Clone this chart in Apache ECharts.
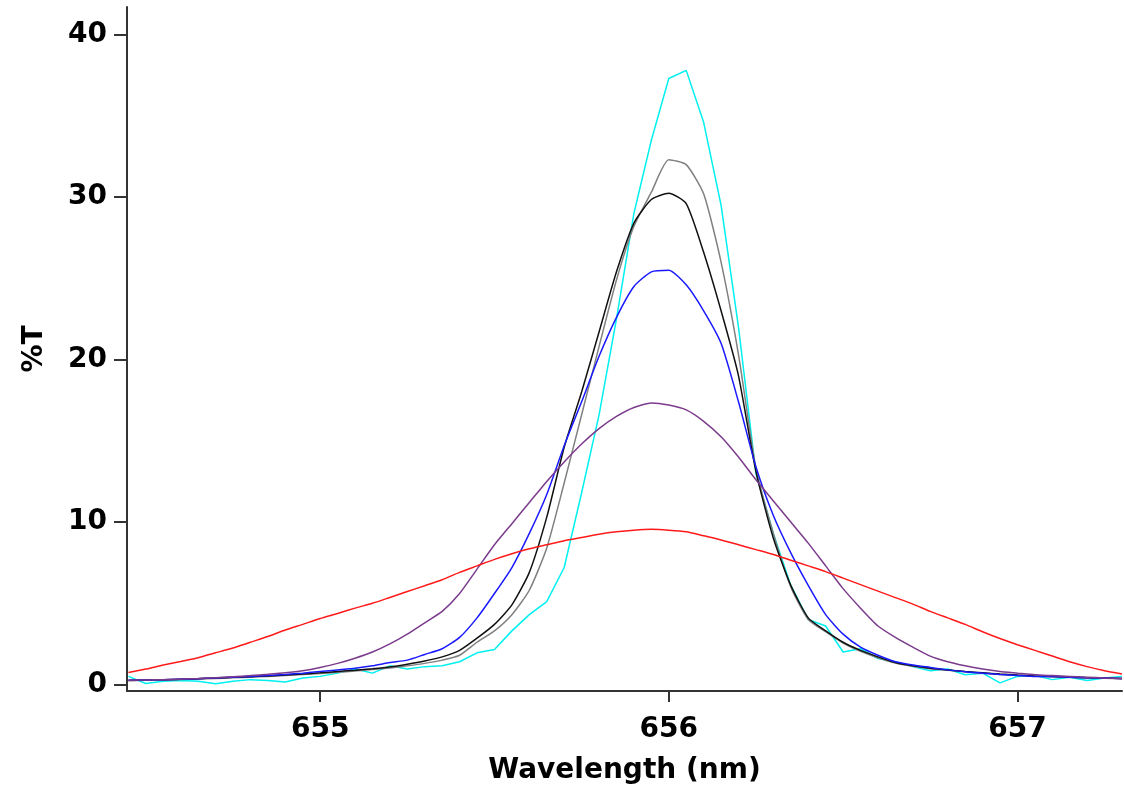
<!DOCTYPE html>
<html>
<head>
<meta charset="utf-8">
<title>%T vs Wavelength</title>
<script src="https://cdn.jsdelivr.net/npm/echarts@6/dist/echarts.min.js"></script>
<style>
  html, body { margin: 0; padding: 0; background: #fff; }
  #chart { width: 1124px; height: 790px; }
</style>
</head>
<body>
<div id="chart"></div>
<script>
// wavelength grid, nm
var wavelength = [
  654.45, 654.50, 654.55, 654.60, 654.65, 654.70, 654.75, 654.80, 654.85, 654.90,
  654.95, 655.00, 655.05, 655.10, 655.15, 655.20, 655.25, 655.30, 655.35, 655.40,
  655.45, 655.50, 655.55, 655.60, 655.65, 655.70, 655.75, 655.80, 655.85, 655.90,
  655.95, 656.00, 656.05, 656.10, 656.15, 656.20, 656.25, 656.30, 656.35, 656.40,
  656.45, 656.50, 656.55, 656.60, 656.65, 656.70, 656.75, 656.80, 656.85, 656.90,
  656.95, 657.00, 657.05, 657.10, 657.15, 657.20, 657.25, 657.30
];

// %T per curve
var cyanT = [
  0.5, 0.06, 0.2, 0.25, 0.2, 0.05, 0.2, 0.3, 0.25, 0.15,
  0.4, 0.5, 0.7, 0.95, 0.7, 1.15, 0.95, 1.1, 1.15, 1.4,
  1.95, 2.15, 3.3, 4.3, 5.1, 7.2, 11.8, 16.6, 22.5, 29.0,
  33.5, 37.3, 37.8, 34.6, 29.5, 22.0, 13.0, 9.3, 6.1, 4.0,
  3.6, 2.0, 2.2, 1.6, 1.4, 1.1, 0.85, 0.95, 0.6, 0.7,
  0.1, 0.5, 0.55, 0.3, 0.45, 0.25, 0.4, 0.5
];
var greyT = [
  0.24, 0.26, 0.28, 0.31, 0.34, 0.37, 0.41, 0.45, 0.5, 0.55,
  0.61, 0.68, 0.75, 0.83, 0.92, 1.02, 1.15, 1.3, 1.5, 1.8,
  2.6, 3.3, 4.3, 5.8, 8.4, 12.4, 16.6, 20.8, 24.9, 28.2,
  30.3, 32.3, 32.0, 30.2, 26.0, 20.3, 13.3, 9.3, 6.0, 4.0,
  3.25, 2.55, 2.05, 1.65, 1.32, 1.12, 0.97, 0.87, 0.78, 0.7,
  0.62, 0.56, 0.51, 0.47, 0.44, 0.41, 0.39, 0.36
];
var blackT = [
  0.25, 0.28, 0.3, 0.33, 0.36, 0.4, 0.44, 0.48, 0.53, 0.58,
  0.65, 0.72, 0.8, 0.88, 0.97, 1.08, 1.25, 1.45, 1.7, 2.1,
  2.85, 3.7, 4.9, 6.9, 10.3, 14.6, 18.0, 21.7, 25.4, 28.4,
  29.85, 30.24, 29.6, 26.6, 23.0, 19.0, 13.1, 9.0, 6.1, 4.1,
  3.3, 2.6, 2.1, 1.7, 1.35, 1.15, 1.0, 0.9, 0.8, 0.72,
  0.64, 0.58, 0.53, 0.49, 0.45, 0.42, 0.4, 0.37
];
var blueT = [
  0.26, 0.28, 0.3, 0.33, 0.36, 0.4, 0.45, 0.49, 0.55, 0.62,
  0.7, 0.8, 0.9, 1.0, 1.15, 1.35, 1.5, 1.85, 2.2, 2.9,
  4.1, 5.6, 7.2, 9.3, 11.7, 14.7, 17.4, 20.2, 22.6, 24.5,
  25.4, 25.5, 24.6, 23.0, 21.0, 17.4, 13.4, 10.4, 8.1, 6.1,
  4.3, 3.1, 2.3, 1.8, 1.4, 1.2, 1.05, 0.9, 0.78, 0.7,
  0.62, 0.56, 0.5, 0.49, 0.45, 0.42, 0.4, 0.37
];
var purpleT = [
  0.26, 0.28, 0.3, 0.33, 0.37, 0.42, 0.48, 0.55, 0.63, 0.72,
  0.85, 1.05, 1.3, 1.62, 2.0, 2.5, 3.1, 3.8, 4.5, 5.6,
  7.1, 8.6, 9.9, 11.2, 12.5, 13.7, 14.8, 15.75, 16.5, 17.05,
  17.33, 17.2, 16.9, 16.2, 15.25, 14.0, 12.6, 11.3, 10.0, 8.7,
  7.3, 5.9, 4.7, 3.6, 2.9, 2.3, 1.75, 1.4, 1.15, 0.95,
  0.8, 0.7, 0.6, 0.55, 0.5, 0.45, 0.4, 0.37
];
var redT = [
  0.74, 0.95, 1.2, 1.42, 1.65, 1.95, 2.25, 2.6, 2.95, 3.35,
  3.7, 4.06, 4.37, 4.7, 5.0, 5.36, 5.72, 6.08, 6.45, 6.9,
  7.3, 7.7, 8.05, 8.35, 8.6, 8.85, 9.05, 9.25, 9.4, 9.5,
  9.55, 9.5, 9.4, 9.15, 8.9, 8.6, 8.3, 8.0, 7.65, 7.3,
  6.95, 6.55, 6.15, 5.75, 5.35, 4.95, 4.5, 4.1, 3.7, 3.25,
  2.83, 2.45, 2.1, 1.75, 1.4, 1.1, 0.85, 0.65
];

var xTicks = [655, 656, 657];
var yTicks = [0, 10, 20, 30, 40];

var font = "'DejaVu Sans', sans-serif";
var axisColor = '#333';

function pairs(vals) {
  return wavelength.map(function (w, i) { return [w, vals[i]]; });
}

function line(vals, color, smooth) {
  return {
    type: 'line',
    data: pairs(vals),
    showSymbol: false,
    smooth: smooth,
    lineStyle: { color: color, width: 1.5 },
    emphasis: { disabled: true }
  };
}

var myChart = echarts.init(document.getElementById('chart'));
var option = {
  animation: false,
  backgroundColor: '#fff',
  grid: { left: 127, right: 2, top: 7, bottom: 97 },
  xAxis: {
    type: 'value',
    min: 654.446,
    max: 657.3,
    name: 'Wavelength (nm)',
    nameLocation: 'middle',
    nameGap: 66,
    nameTextStyle: { fontSize: 28, fontWeight: 'bold', color: '#000', fontFamily: font },
    axisLine: { onZero: false, lineStyle: { color: axisColor, width: 2 } },
    axisTick: { customValues: xTicks, length: 11, lineStyle: { color: axisColor, width: 2 } },
    axisLabel: { customValues: xTicks, margin: 25, fontSize: 28, fontWeight: 'bold', color: '#000', fontFamily: font },
    splitLine: { show: false }
  },
  yAxis: {
    type: 'value',
    min: -0.4,
    max: 41.7,
    name: '%T',
    nameLocation: 'middle',
    nameGap: 78,
    nameRotate: 90,
    nameTextStyle: { fontSize: 28, fontWeight: 'bold', color: '#000', fontFamily: font },
    axisLine: { show: true, onZero: false, lineStyle: { color: axisColor, width: 2 } },
    axisTick: { show: true, customValues: yTicks, length: 13, lineStyle: { color: axisColor, width: 2 } },
    axisLabel: { customValues: yTicks, margin: 20, fontSize: 28, fontWeight: 'bold', color: '#000', fontFamily: font },
    splitLine: { show: false }
  },
  series: [
    line(cyanT, '#00f0f0', false),
    line(greyT, '#808080', 0.2),
    line(blackT, '#111111', 0.2),
    line(blueT, '#1a1aff', 0.2),
    line(purpleT, '#7b3b8c', 0.2),
    line(redT, '#ff1a1a', 0.2)
  ]
};
myChart.setOption(option);
</script>
</body>
</html>
